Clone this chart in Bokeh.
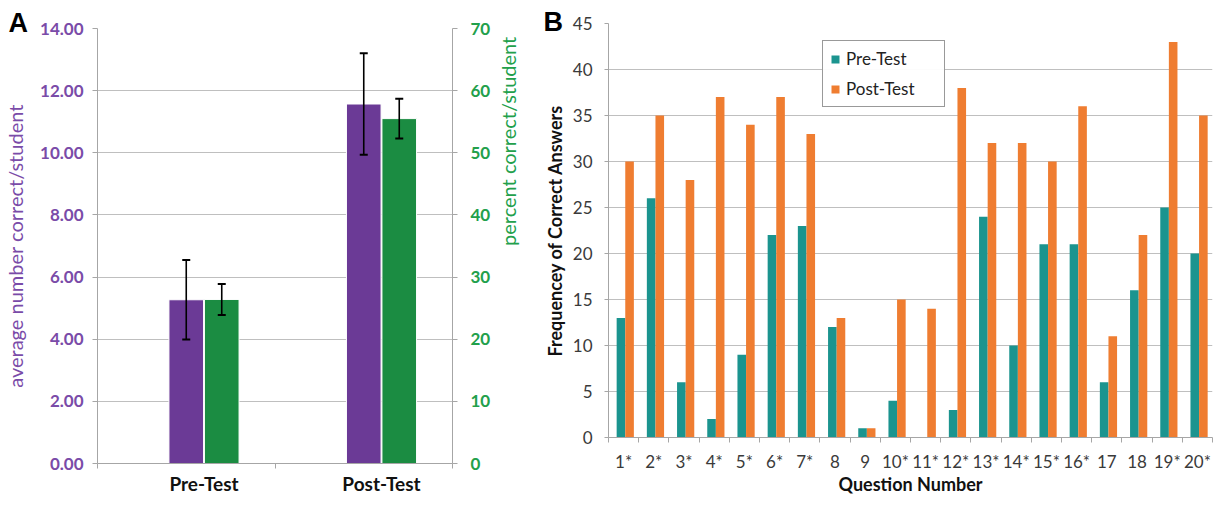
import numpy as np
from bokeh.plotting import figure
from bokeh.models import (Range1d, LinearAxis, FixedTicker, Whisker, TeeHead,
                          ColumnDataSource, Legend, LegendItem, NumeralTickFormatter)
from bokeh.layouts import row, column
from bokeh.embed import file_html
from bokeh.resources import INLINE

# ---------------- Panel A data ----------------
groups = ["Pre-Test", "Post-Test"]
avg_mean = [5.27, 11.57]
avg_err = [1.28, 1.63]
pct_mean = [26.4, 55.5]
pct_err = [2.5, 3.2]
avg_ticks = [0, 2, 4, 6, 8, 10, 12, 14]
pct_ticks = [0, 10, 20, 30, 40, 50, 60, 70]

# ---------------- Panel B data ----------------
questions = ["1*", "2*", "3*", "4*", "5*", "6*", "7*", "8", "9", "10*",
             "11*", "12*", "13*", "14*", "15*", "16*", "17", "18", "19*", "20*"]
pre_test = [13, 26, 6, 2, 9, 22, 23, 12, 1, 4, 0, 3, 24, 10, 21, 21, 6, 16, 25, 20]
post_test = [30, 35, 28, 37, 34, 37, 33, 13, 1, 15, 14, 38, 32, 32, 30, 36, 11, 22, 43, 35]
freq_ticks = [0, 5, 10, 15, 20, 25, 30, 35, 40, 45]

FONT = "Lato"
PURPLE = "#6B3A96"
PURPLE_TXT = "#7A4BA8"
GREEN = "#1B8C42"
GREEN_TXT = "#22A04B"
TEAL = "#1B948F"
ORANGE = "#EF7D31"
GRID = "#BFBFBF"
AXIS = "#A6A6A6"
DARK = "#3A3A3A"


def style_axis(ax, color, size="17px", bold=False, standoff=8):
    ax.axis_line_color = AXIS
    ax.axis_line_width = 1
    ax.major_tick_line_color = AXIS
    ax.minor_tick_line_color = AXIS
    ax.major_tick_in = 0
    ax.minor_tick_in = 0
    ax.major_label_text_font = FONT
    ax.major_label_text_font_size = size
    ax.major_label_text_color = color
    ax.major_label_text_font_style = "bold" if bold else "normal"
    ax.major_label_standoff = standoff


def style_letter(p, text, offset, standoff):
    p.title.text = text
    p.title.text_font = "Liberation Sans"
    p.title.text_font_style = "bold"
    p.title.text_font_size = "27px"
    p.title.text_color = "black"
    p.title.align = "left"
    p.title.offset = offset
    p.title.standoff = standoff
    p.title.vertical_align = "middle"


H = 497

# ================= Panel A =================
pa = figure(width=535, height=H, x_range=Range1d(-0.6, 1.4), y_range=Range1d(0, 14),
            output_backend="svg", toolbar_location=None,
            min_border_left=97, min_border_right=75, min_border_top=28, min_border_bottom=31)
pa.extra_y_ranges = {"pct": Range1d(0, 70)}
pa.outline_line_color = None
pa.xgrid.grid_line_color = None
pa.ygrid.grid_line_color = GRID
pa.ygrid.grid_line_width = 1.2
style_letter(pa, "A", -89, -20)

gx = np.arange(len(groups), dtype=float)
bw = 0.195
pa.vbar(x=gx - 0.1, top=avg_mean, width=bw, fill_color=PURPLE, line_color="white", line_width=1)
pa.vbar(x=gx + 0.1, top=pct_mean, width=bw, fill_color=GREEN, line_color="white", line_width=1,
        y_range_name="pct")

am = np.array(avg_mean); ae = np.array(avg_err)
pm = np.array(pct_mean); pe = np.array(pct_err)
src_avg = ColumnDataSource(dict(x=gx - 0.1, lo=am - ae, hi=am + ae))
src_pct = ColumnDataSource(dict(x=gx + 0.1, lo=pm - pe, hi=pm + pe))
for src, rng in ((src_avg, "default"), (src_pct, "pct")):
    w = Whisker(source=src, base="x", lower="lo", upper="hi", line_color="black", line_width=1.6,
                upper_head=TeeHead(size=8, line_width=2, line_color="black"),
                lower_head=TeeHead(size=8, line_width=2, line_color="black"),
                y_range_name=rng, level="overlay")
    pa.add_layout(w)

# left axis
la = pa.yaxis[0]
la.ticker = FixedTicker(ticks=avg_ticks)
la.formatter = NumeralTickFormatter(format="0.00")
style_axis(la, PURPLE_TXT, bold=True, standoff=9)
la.major_tick_out = 5
la.minor_tick_out = 0
la.axis_label = "average number correct/student"
la.axis_label_text_font = FONT
la.axis_label_text_font_size = "20px"
la.axis_label_text_font_style = "normal"
la.axis_label_text_color = PURPLE_TXT
la.axis_label_standoff = 10

# right axis
ra = LinearAxis(y_range_name="pct", ticker=FixedTicker(ticks=pct_ticks))
style_axis(ra, GREEN_TXT, bold=True, standoff=13)
ra.major_tick_out = 5
ra.minor_tick_out = 0
ra.axis_label = "percent correct/student"
ra.axis_label_text_font = FONT
ra.axis_label_text_font_size = "20px"
ra.axis_label_text_font_style = "normal"
ra.axis_label_text_color = GREEN_TXT
ra.axis_label_standoff = 15
if "axis_label_orientation" in ra.properties():
    ra.axis_label_orientation = np.pi / 2
pa.add_layout(ra, "right")

# x axis
xa = pa.xaxis[0]
xa.ticker = FixedTicker(ticks=list(gx), minor_ticks=[-0.6, 0.4, 1.4])
xa.major_label_overrides = {i: g for i, g in enumerate(groups)}
style_axis(xa, "#111111", size="19px", bold=True, standoff=3)
xa.major_tick_out = 0
xa.minor_tick_out = 5

# ================= Panel B =================
pb = figure(width=682, height=H, x_range=Range1d(-0.5, len(questions) - 0.5),
            y_range=Range1d(0, 45), output_backend="svg", toolbar_location=None,
            min_border_left=73, min_border_right=5, min_border_top=23, min_border_bottom=57)
pb.outline_line_color = None
pb.xgrid.grid_line_color = None
pb.ygrid.grid_line_color = GRID
pb.ygrid.grid_line_width = 1.2
style_letter(pb, "B", -65, -29)

qx = np.arange(len(questions), dtype=float)
qbw = 0.285
r_pre = pb.vbar(x=qx - 0.0875, top=pre_test, width=qbw, fill_color=TEAL, line_color=None)
r_post = pb.vbar(x=qx + 0.1975, top=post_test, width=qbw, fill_color=ORANGE, line_color=None)

yb = pb.yaxis[0]
yb.ticker = FixedTicker(ticks=freq_ticks)
style_axis(yb, DARK, size="17px", standoff=12)
yb.major_tick_out = 4
yb.minor_tick_out = 0
yb.axis_label = "Frequencey of Correct Answers"
yb.axis_label_text_font = FONT
yb.axis_label_text_font_size = "18px"
yb.axis_label_text_font_style = "bold"
yb.axis_label_text_color = "#111111"
yb.axis_label_standoff = 4

xb = pb.xaxis[0]
xb.ticker = FixedTicker(ticks=list(qx), minor_ticks=list(np.arange(len(questions) + 1) - 0.5))
xb.major_label_overrides = {i: q for i, q in enumerate(questions)}
style_axis(xb, DARK, size="17px", standoff=8)
xb.major_tick_out = 0
xb.minor_tick_out = 5
xb.axis_label = "Question Number"
xb.axis_label_text_font = FONT
xb.axis_label_text_font_size = "18px"
xb.axis_label_text_font_style = "bold"
xb.axis_label_text_color = "#111111"
xb.axis_label_standoff = -2

legend = Legend(items=[LegendItem(label="Pre-Test", renderers=[r_pre]),
                       LegendItem(label="Post-Test", renderers=[r_post])],
                location=(214, 330), orientation="vertical",
                glyph_width=10, glyph_height=10, label_standoff=6,
                label_text_font=FONT, label_text_font_size="17px", label_text_color="#222222",
                border_line_color="#333333", border_line_width=1,
                padding=7, spacing=9, margin=0, label_width=91)
pb.add_layout(legend)

layout = row(column(pa), column(pb))
open("out.html", "w").write(file_html(layout, INLINE))
